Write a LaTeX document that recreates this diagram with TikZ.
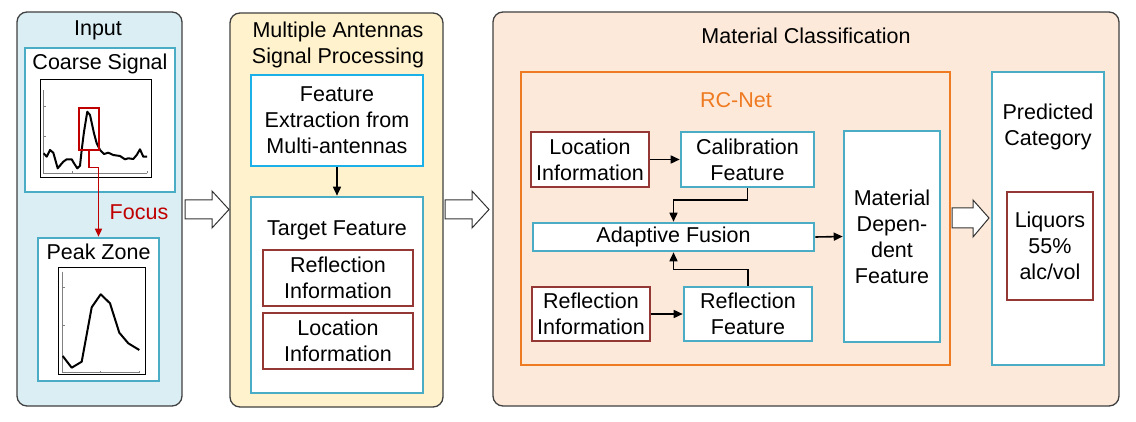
\documentclass[tikz,border=0pt]{standalone}
\usepackage{fontspec}
\setmainfont{Liberation Sans}
\usetikzlibrary{arrows.meta}

\definecolor{inputbg}{HTML}{DAEEF3}
\definecolor{procbg}{HTML}{FFF2CC}
\definecolor{classbg}{HTML}{FDE9D9}
\definecolor{tealline}{HTML}{4BACC6}
\definecolor{skyline}{HTML}{1CB0E8}
\definecolor{brickline}{HTML}{953735}
\definecolor{netorange}{HTML}{EE7A22}
\definecolor{focusred}{HTML}{C00000}

\newcommand{\bodyfont}{\fontsize{21.5}{26}\selectfont}

\tikzset{
  panel/.style={draw=black!75, line width=1.3pt, rounded corners=10pt},
  box/.style={draw=tealline, line width=2.6pt, fill=white, inner sep=0pt, align=center, font=\bodyfont},
  infobox/.style={box, draw=brickline},
  txt/.style={font=\bodyfont, align=center, inner sep=0pt},
  flow/.style={-{Triangle[length=9pt,width=8pt]}, line width=1.6pt},
  hollow/.style={draw=black!80, fill=white, line width=1pt},
  curve/.style={line width=2pt, line join=round},
  axis/.style={black!50, line width=0.6pt}
}

\begin{document}
\begin{tikzpicture}[x=1pt, y=-1pt]
    \useasboundingbox (0,0) rectangle (1136,422);

    % Panels
    \draw[panel, fill=inputbg] (17,12) rectangle (182,406);
    \draw[panel, fill=procbg] (230,13) rectangle (443,407);
    \draw[panel, fill=classbg] (493,12) rectangle (1119,406);

    % Input
    \node[txt] (inputtitle) at (98,30) {Input};
    \node[box, minimum width=150, minimum height=144] (coarse) at (100,120) {};
    \node[txt] (coarsetitle) at (100,64) {Coarse Signal};
    \node[box, minimum width=121, minimum height=143] (peak) at (98.5,309.5) {};
    \node[txt] (peaktitle) at (98.5,252) {Peak Zone};

    % Coarse signal plot
    \draw[line width=1pt] (40.5,80) rectangle (151,178);
    \draw[axis] (43.7,90) -- (43.7,173.3) -- (147,173.3);
    \foreach \ty in {106.7,136.7} {
      \draw[axis] (43.7,\ty) -- (45.5,\ty);
    }
    \foreach \tx in {72.7,147} {
      \draw[axis] (\tx,173.3) -- (\tx,171.5);
    }
    \draw[curve] plot coordinates {(43.7,153.3) (46.7,156.7) (50,150) (53.3,152.7)
      (57.7,168.3) (63.3,161.7) (66.7,159.3) (71.7,159.3) (74,163.3) (77.3,168.3)
      (80,165.7) (81.7,150) (84,131.7) (87.3,111.7) (90,115) (94,133.3) (96.7,143.3)
      (100,150) (104,154) (108.3,152.7) (113.3,155) (120,156) (125,159.3)
      (128.3,158.3) (133.3,159) (136.7,155) (140,149.3) (143.3,156.7) (147,156.7)};
    \node[draw=focusred, line width=1.5pt, minimum width=20, minimum height=42, inner sep=0pt] (peakmark) at (89,129) {};

    % Peak zone plot
    \draw[line width=1pt] (58.3,267.7) rectangle (145.7,374);
    \draw[axis] (62.7,271.7) -- (62.7,372.7) -- (140,372.7);
    \foreach \ty in {287.3,325} {
      \draw[axis] (62.7,\ty) -- (64.5,\ty);
    }
    \foreach \tx in {100.7,139.3} {
      \draw[axis] (\tx,372.7) -- (\tx,370.9);
    }
    \draw[curve] plot coordinates {(62.7,356) (71.7,367.7) (81.7,361.7) (91.7,307.3)
      (100.7,294.3) (110,303.3) (119.3,332.7) (128.3,343.3) (139.3,350)};

    % Focus
    \draw[focusred, line width=1.5pt, -{Triangle[length=8pt,width=7pt]}] (peakmark.south) -- ++(0,17) -| (peak.north);
    \node[txt, text=focusred] (focus) at (139,212) {Focus};

    % Multiple antennas signal processing
    \node[txt] (proctitle) at (338,45) {Multiple Antennas\\Signal Processing};
    \node[box, draw=skyline, minimum width=172, minimum height=91] (extract) at (337,120.5) {Feature\\Extraction from\\Multi-antennas};
    \node[box, minimum width=172, minimum height=196] (target) at (337,295) {};
    \node[txt] (targettitle) at (337,230) {Target Feature};
    \node[infobox, minimum width=150, minimum height=56] (targetrefl) at (338,278) {Reflection\\Information};
    \node[infobox, minimum width=150, minimum height=56] (targetloc) at (338,341) {Location\\Information};
    \draw[flow] (extract.south) -- (target.north);

    % Material classification
    \node[txt] (classtitle) at (806,36) {Material Classification};
    \node[draw=netorange, line width=2.2pt, minimum width=429, minimum height=293, inner sep=0pt] (rcnet) at (735.5,218.5) {};
    \node[txt, text=netorange] (rcnettitle) at (736,100) {RC-Net};
    \node[infobox, minimum width=118, minimum height=55] (locinfo) at (590,159.5) {Location\\Information};
    \node[box, minimum width=133, minimum height=55] (calib) at (747.5,159.5) {Calibration\\Feature};
    \node[box, minimum width=281, minimum height=28] (fusion) at (673.5,237) {Adaptive Fusion};
    \node[infobox, minimum width=118, minimum height=54] (reflinfo) at (591,314) {Reflection\\Information};
    \node[box, minimum width=128, minimum height=54] (reflfeat) at (748,314) {Reflection\\Feature};
    \node[box, minimum width=96, minimum height=211] (material) at (892,236.5) {Material\\Depen-\\dent\\Feature};
    \draw[flow] (locinfo.east) -- (calib.west);
    \draw[flow] (reflinfo.east) -- (reflfeat.west);
    \draw[flow] (calib.south) -- ++(0,12) -| (fusion.north);
    \draw[flow] (reflfeat.north) -- ++(0,-16) -| (fusion.south);
    \draw[flow] (fusion.east) -- (material.west);

    % Prediction
    \node[box, minimum width=112, minimum height=293] (predicted) at (1048,218.5) {};
    \node[txt] (predtitle) at (1048,127) {Predicted\\Category};
    \node[infobox, minimum width=86, minimum height=108] (liquors) at (1050,246) {Liquors\\55\%\\alc/vol};

    % Hollow arrows between stages
    \draw[hollow] (185,200) -- (212,200) -- (212,191) -- (229,209.5) -- (212,228) -- (212,219) -- (185,219) -- cycle;
    \draw[hollow] (445,200) -- (472,200) -- (472,191) -- (489,209.5) -- (472,228) -- (472,219) -- (445,219) -- cycle;
    \draw[hollow] (952,208) -- (973,208) -- (973,200) -- (989,218) -- (973,237) -- (973,228) -- (952,228) -- cycle;
\end{tikzpicture}
\end{document}
